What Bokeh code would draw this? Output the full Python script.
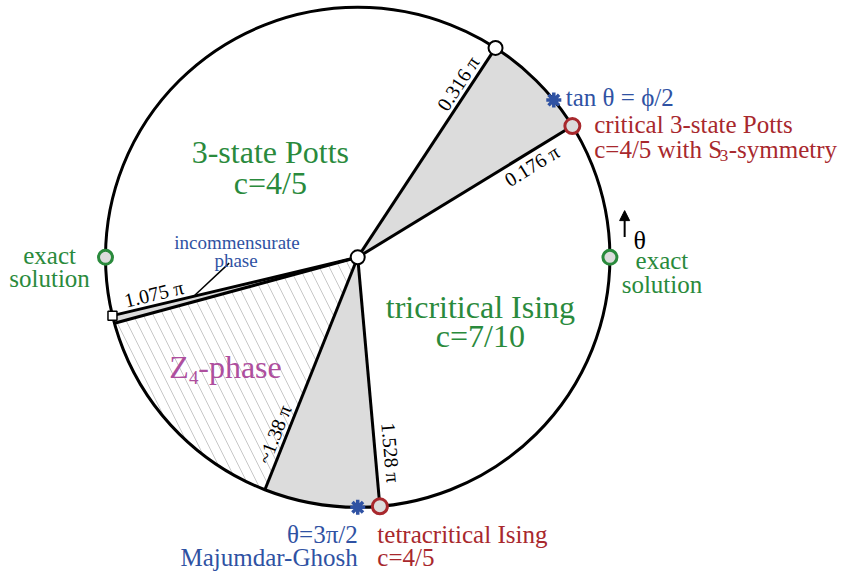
import math
from bokeh.plotting import figure
from bokeh.models import Range1d, Arrow, NormalHead
from bokeh.core.properties import value
from bokeh.embed import file_html
from bokeh.resources import INLINE

# ---------------- data (angles in units of pi) ----------------
boundary_angles = [0.176, 0.316, 1.075, 1.085, 1.38, 1.528]
boundary_labels = ["0.176 π", "0.316 π", "1.075 π", "", "~1.38 π", "1.528 π"]
gray_starts = [0.176, 1.075, 1.38]
gray_ends = [0.316, 1.085, 1.528]
hatch_start = [1.085]
hatch_end = [1.38]
exact_angles = [0.0, 1.0]
critical_angles = [0.176, 1.528]
open_angles = [0.316]
square_angles = [1.075]
golden = (1 + 5 ** 0.5) / 2
star_angles = [math.atan(golden / 2) / math.pi, 1.5]

# ---------------- layout helpers ----------------
CX, CY, R = 364.0, 264.0, 257.0   # reference pixels of circle centre, radius
W, H = 859.0, 587.0


def X(px):
    return (px - CX) / R


def Y(py):
    return (CY - py) / R


GREEN = "#2a8a3c"
RED = "#a8282d"
BLUE = "#2f52a3"
PURPLE = "#ae4f9e"
GRAY = "#dcdcdc"
FONT = value("Liberation Serif")

p = figure(width=843, height=571, x_range=Range1d(X(0), X(W)),
           y_range=Range1d(Y(H), Y(0)), output_backend="svg",
           toolbar_location=None, min_border=0)
p.axis.visible = False
p.grid.visible = False
p.outline_line_color = None
p.background_fill_color = "white"

pi = math.pi


def wedge_paths(starts, ends, n=80):
    xs, ys = [], []
    for a0, a1 in zip(starts, ends):
        px, py = [0.0], [0.0]
        for i in range(n + 1):
            t = (a0 + (a1 - a0) * i / n) * pi
            px.append(math.cos(t))
            py.append(math.sin(t))
        xs.append(px)
        ys.append(py)
    return xs, ys


# hatched Z4 wedge
hx, hy = wedge_paths(hatch_start, hatch_end)
p.patches(hx, hy, fill_color="white", line_color=None, hatch_pattern="\\",
          hatch_color="#c8c8c8", hatch_weight=1, hatch_scale=20)
# gray wedges
gx, gy = wedge_paths(gray_starts, gray_ends)
p.patches(gx, gy, fill_color=GRAY, line_color=None)

# outer circle
p.ellipse(x=[0], y=[0], width=2, height=2, fill_color=None, line_color="black",
          line_width=3)

# radial boundaries
p.segment(x0=[0] * len(boundary_angles), y0=[0] * len(boundary_angles),
          x1=[math.cos(a * pi) for a in boundary_angles],
          y1=[math.sin(a * pi) for a in boundary_angles],
          line_color="black", line_width=3)

# boundary labels
lab_r = {0.176: 0.78, 0.316: 0.80, 1.075: 0.82, 1.38: 0.78, 1.528: 0.79}
lab_off = {0.176: -13, 0.316: 12, 1.075: -12, 1.38: -12, 1.528: 16}
lab_rot = {0.176: 0.176, 0.316: 0.316, 1.075: 0.075, 1.38: 0.38, 1.528: -0.472}
lx, ly, lt, la = [], [], [], []
for a, t in zip(boundary_angles, boundary_labels):
    if not t:
        continue
    th = a * pi
    r = lab_r[a]
    d = lab_off[a] / R
    lx.append(r * math.cos(th) - d * math.sin(th))
    ly.append(r * math.sin(th) + d * math.cos(th))
    lt.append(t)
    la.append(lab_rot[a] * pi)
p.text(x=lx, y=ly, text=lt, angle=la, text_font=FONT, text_font_size="20px",
       text_align="center", text_baseline="middle", text_color="black")

# leader line for incommensurate phase
p.segment(x0=[X(233)], y0=[Y(270)], x1=[X(198)], y1=[Y(303)],
          line_color="black", line_width=1.5)


def pts(angles, r=1.0):
    return [r * math.cos(a * pi) for a in angles], [r * math.sin(a * pi) for a in angles]


ex, ey = pts(exact_angles)
p.scatter(ex, ey, marker="circle", size=14, fill_color=GRAY, line_color=GREEN,
          line_width=3)
cx_, cy_ = pts(critical_angles)
p.scatter(cx_, cy_, marker="circle", size=15, fill_color=GRAY, line_color=RED,
          line_width=3)
ox, oy = pts(open_angles)
p.scatter(ox + [0], oy + [0], marker="circle", size=14, fill_color="white",
          line_color="black", line_width=2)
sx, sy = pts(square_angles)
p.scatter(sx, sy, marker="square", size=9, fill_color="white",
          line_color="black", line_width=1.5)
tx, ty = pts(star_angles)
p.scatter(tx, ty, marker="asterisk", size=15, line_color=BLUE, line_width=3.5)

# arrow for theta
p.add_layout(Arrow(end=NormalHead(size=10, fill_color="black", line_color="black"),
                   x_start=X(636), y_start=Y(243), x_end=X(636), y_end=Y(216),
                   line_width=2, line_color="black"))


def txt(x, y, s, color, size, align="left"):
    p.text(x=[X(x)], y=[Y(y)], text=[s], text_font=FONT,
           text_font_size=f"{size}px", text_color=color, text_align=align,
           text_baseline="alphabetic")


txt(275, 156, "3-state Potts", GREEN, 32, "center")
txt(275, 188, "c=4/5", GREEN, 32, "center")
txt(489, 315, "tricritical Ising", GREEN, 32, "center")
txt(489, 345, "c=7/10", GREEN, 32, "center")

txt(172, 377, "Z", PURPLE, 32)
txt(192, 388, "4", PURPLE, 19)
txt(201.5, 377, "-phase", PURPLE, 32)

txt(241, 249, "incommensurate", BLUE, 19, "center")
txt(240, 267, "phase", BLUE, 19, "center")

txt(576, 100, "tan θ = ϕ/2", BLUE, 25)
txt(605, 127, "critical 3-state Potts", RED, 25)
txt(605, 153, "c=4/5 with S", RED, 25)
txt(733, 159, "3", RED, 17)
txt(742, 153, "-symmetry", RED, 25)

txt(645, 247, "θ", "black", 26)
txt(674, 267, "exact", GREEN, 25, "center")
txt(674, 292, "solution", GREEN, 25, "center")
txt(50, 262, "exact", GREEN, 25, "center")
txt(50, 286, "solution", GREEN, 25, "center")

txt(364, 549, "θ=3π/2", BLUE, 25, "right")
txt(364, 573, "Majumdar-Ghosh", BLUE, 25, "right")
txt(384, 549, "tetracritical Ising", RED, 25)
txt(384, 573, "c=4/5", RED, 25)

open("out.html", "w").write(file_html(p, INLINE))
